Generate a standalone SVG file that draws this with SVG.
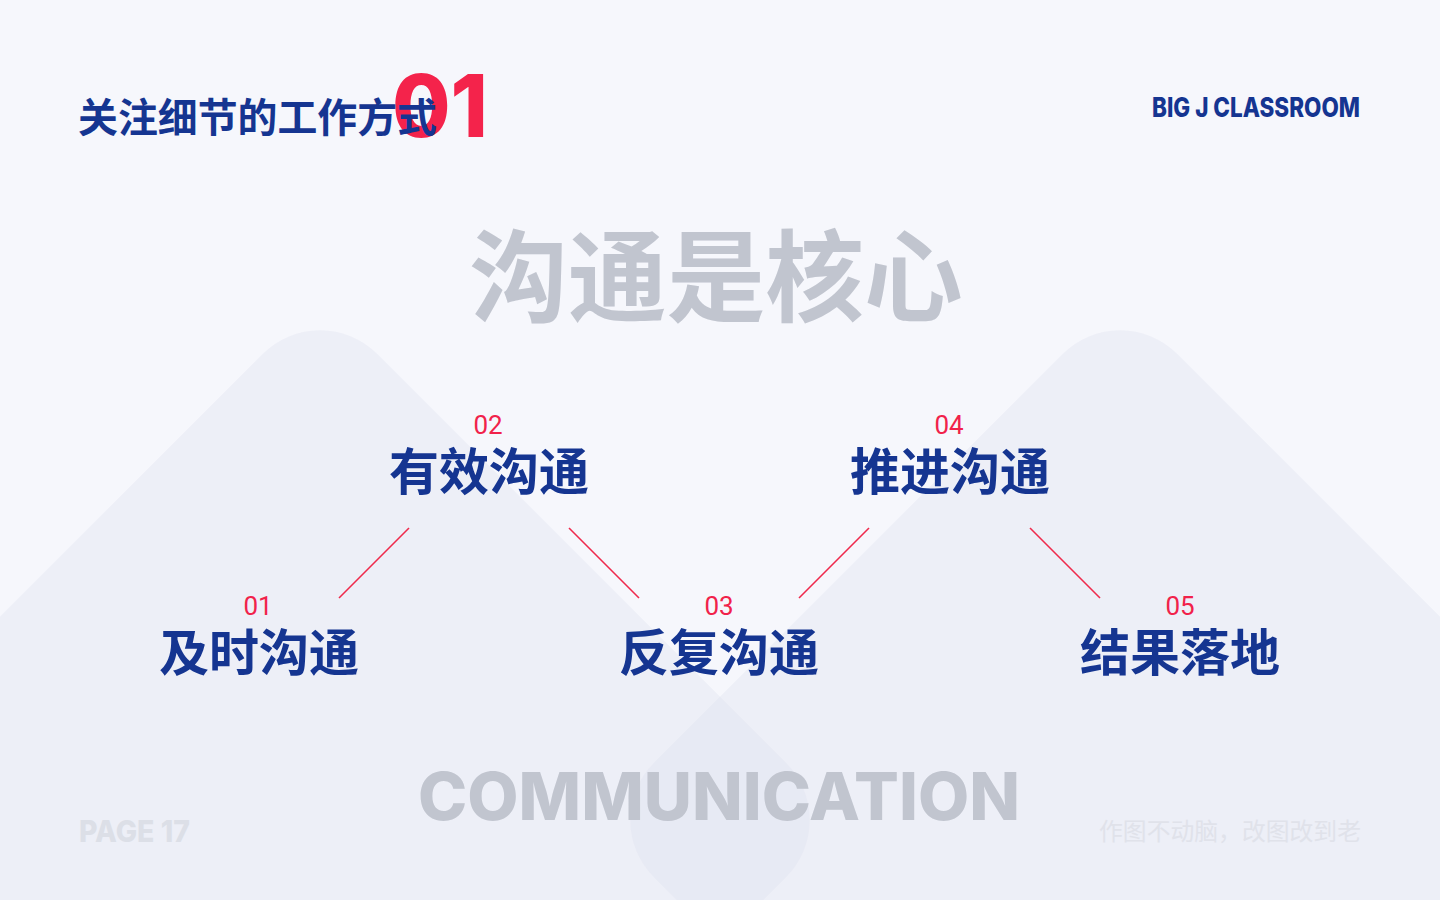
<svg xmlns="http://www.w3.org/2000/svg" width="1440" height="900" viewBox="0 0 1440 900">
  <defs>
    <style>
      .bg { fill: #f6f7fc; }
      .mtn { fill: #dde1ef; fill-opacity: 0.36; }
      .node-label { font-family: "Noto Sans CJK SC", "Noto Sans", sans-serif; font-weight: 700; font-size: 50px; fill: #153591; text-anchor: middle; }
      .node-num { font-family: Roboto, "Liberation Sans", sans-serif; font-weight: 400; font-size: 26px; fill: #f1224a; text-anchor: middle; }
      .conn { stroke: #ef2a4c; stroke-width: 1.6; fill: none; }
      .geo { font-family: Inter, Lato, "Liberation Sans", sans-serif; font-weight: 800; }
    </style>
  </defs>

  <rect class="bg" x="0" y="0" width="1440" height="900"/>

  <!-- background mountains -->
  <g id="background">
    <rect class="mtn" x="-370" y="-370" width="740" height="740" rx="81" transform="translate(320 820) rotate(45)"/>
    <rect class="mtn" x="-370" y="-370" width="740" height="740" rx="81" transform="translate(1120 820) rotate(45)"/>
  </g>

  <!-- header -->
  <g id="header">
    <text x="392" y="137" class="geo" font-size="86" fill="#f4234b" textLength="96" lengthAdjust="spacingAndGlyphs">01</text>
    <text x="78" y="132" font-family="'Noto Sans CJK SC', sans-serif" font-weight="700" font-size="40" fill="#153591" textLength="359" lengthAdjust="spacingAndGlyphs">关注细节的工作方式</text>
    <text x="1152" y="117" class="geo" font-size="27" fill="#153591" textLength="208" lengthAdjust="spacingAndGlyphs">BIG J CLASSROOM</text>
  </g>

  <g id="headline">
    <text x="716" y="314" font-family="'Noto Sans CJK SC', sans-serif" font-weight="700" font-size="100" fill="#c1c5cf" text-anchor="middle" textLength="493" lengthAdjust="spacingAndGlyphs">沟通是核心</text>
  </g>

  <!-- connectors -->
  <g id="connectors">
    <line class="conn" x1="339" y1="598" x2="409" y2="528"/>
    <line class="conn" x1="569" y1="528" x2="639" y2="598"/>
    <line class="conn" x1="799" y1="598" x2="869" y2="528"/>
    <line class="conn" x1="1030" y1="528" x2="1100" y2="598"/>
  </g>

  <!-- nodes -->
  <g id="node-01">
    <text class="node-num" x="258" y="615">01</text>
    <text class="node-label" x="259" y="671">及时沟通</text>
  </g>
  <g id="node-02">
    <text class="node-num" x="488" y="434">02</text>
    <text class="node-label" x="489" y="490">有效沟通</text>
  </g>
  <g id="node-03">
    <text class="node-num" x="719" y="615">03</text>
    <text class="node-label" x="719" y="671">反复沟通</text>
  </g>
  <g id="node-04">
    <text class="node-num" x="949" y="434">04</text>
    <text class="node-label" x="950" y="490">推进沟通</text>
  </g>
  <g id="node-05">
    <text class="node-num" x="1180" y="615">05</text>
    <text class="node-label" x="1180" y="671">结果落地</text>
  </g>

  <!-- footer -->
  <g id="footer">
    <text x="418" y="820" class="geo" font-size="66" fill="#c1c5cf" textLength="602" lengthAdjust="spacingAndGlyphs">COMMUNICATION</text>
    <text x="79" y="842" class="geo" font-size="30" fill="#dcdfe7" textLength="111" lengthAdjust="spacingAndGlyphs">PAGE 17</text>
    <text x="1099" y="840" font-family="'Noto Sans CJK SC', sans-serif" font-weight="400" font-size="24" fill="#e0e2ea" textLength="262" lengthAdjust="spacingAndGlyphs">作图不动脑，改图改到老</text>
  </g>
</svg>
